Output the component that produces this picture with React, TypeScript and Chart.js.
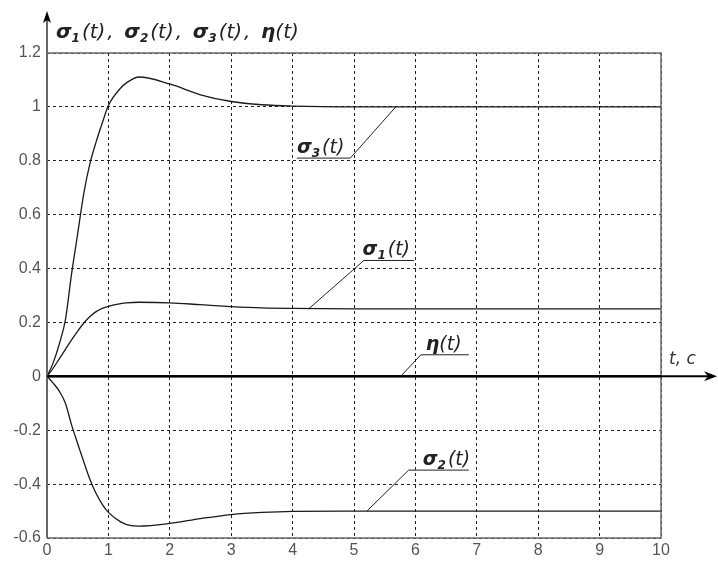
import React, { useEffect, useRef } from "react";
import { Chart, registerables } from "chart.js";

Chart.register(...registerables);

// ---- data ----
const timeS = [0, 0.1, 0.2, 0.3, 0.4, 0.5, 0.6, 0.7, 0.8, 0.9, 1.0, 1.2, 1.3, 1.5, 2, 2.5, 3, 3.5, 4, 5, 6, 7, 8, 9, 10];
const sigma1 = [0, 0.03, 0.065, 0.1, 0.135, 0.168, 0.198, 0.222, 0.24, 0.252, 0.26, 0.27, 0.273, 0.275, 0.273, 0.266, 0.259, 0.254, 0.252, 0.25, 0.25, 0.25, 0.25, 0.25, 0.25];
const sigma2 = [0, -0.025, -0.055, -0.1, -0.18, -0.25, -0.318, -0.383, -0.435, -0.475, -0.505, -0.54, -0.55, -0.556, -0.546, -0.528, -0.513, -0.505, -0.501, -0.5, -0.5, -0.5, -0.5, -0.5, -0.5];
const sigma3 = [0, 0.05, 0.12, 0.21, 0.38, 0.53, 0.68, 0.79, 0.87, 0.94, 1.005, 1.07, 1.09, 1.111, 1.085, 1.045, 1.02, 1.008, 1.003, 1.0, 1.0, 1.0, 1.0, 1.0, 1.0];
const eta = [0, 0, 0, 0, 0, 0, 0, 0, 0, 0, 0, 0, 0, 0, 0, 0, 0, 0, 0, 0, 0, 0, 0, 0, 0];

const xTicks = [0, 1, 2, 3, 4, 5, 6, 7, 8, 9, 10];
const yTicks = [-0.6, -0.4, -0.2, 0, 0.2, 0.4, 0.6, 0.8, 1, 1.2];
const yTickLabels = ["-0.6", "-0.4", "-0.2", "0", "0.2", "0.4", "0.6", "0.8", "1", "1.2"];

// annotation leaders (data coordinates)
const annoSymbols = ["σ", "σ", "η", "σ"];
const annoSubs = ["3", "1", "", "2"];
const annoTip = [[5.68, 1.0], [4.26, 0.25], [5.76, 0], [5.21, -0.5]];
const annoElbow = [[4.94, 0.81], [5.16, 0.43], [6.09, 0.08], [5.89, -0.348]];
const annoEnd = [[4.07, 0.81], [5.98, 0.43], [6.87, 0.08], [6.87, -0.348]];
const annoTextX = [4.07, 5.14, 6.17, 6.12];

const titleParts = [["σ", "1"], ["σ", "2"], ["σ", "3"], ["η", ""]];
const xAxisTitle = "t, c";

const FONT = "'Liberation Sans', Arial, sans-serif";
const LFONT = "'DejaVu Sans', sans-serif";

function drawSubLabel(ctx: CanvasRenderingContext2D, x: number, y: number, sym: string, sub: string, size: number) {
  ctx.textBaseline = "alphabetic";
  ctx.textAlign = "left";
  ctx.font = `bold italic ${size}px ${LFONT}`;
  ctx.fillText(sym, x, y);
  let cx = x + ctx.measureText(sym).width;
  if (sub) {
    ctx.font = `bold italic ${Math.round(size * 0.62)}px ${LFONT}`;
    ctx.fillText(sub, cx, y + size * 0.2);
    cx += ctx.measureText(sub).width + 2;
  }
  ctx.font = `italic ${size}px ${LFONT}`;
  ctx.fillText("(t)", cx, y);
  cx += ctx.measureText("(t)").width;
  return cx;
}

const overlay = {
  id: "overlay",
  afterDraw(chart: any) {
    const ctx: CanvasRenderingContext2D = chart.ctx;
    const { left, right, top, bottom } = chart.chartArea;
    const xs = chart.scales.x;
    const ys = chart.scales.y;
    const y0 = ys.getPixelForValue(0);
    ctx.save();

    // frame (top, right, bottom)
    ctx.strokeStyle = "#6a6a6a";
    ctx.lineWidth = 1.5;
    ctx.setLineDash([]);
    ctx.beginPath();
    ctx.moveTo(left, top);
    ctx.lineTo(right, top);
    ctx.lineTo(right, bottom);
    ctx.lineTo(left, bottom);
    ctx.stroke();

    // y axis with arrow
    ctx.strokeStyle = "#666";
    ctx.lineWidth = 2;
    ctx.beginPath();
    ctx.moveTo(left, bottom);
    ctx.lineTo(left, 18);
    ctx.stroke();
    ctx.fillStyle = "#000";
    ctx.beginPath();
    ctx.moveTo(left, 11);
    ctx.lineTo(left - 4, 23);
    ctx.lineTo(left, 20);
    ctx.lineTo(left + 4, 23);
    ctx.closePath();
    ctx.fill();

    // x axis (zero line) with arrow
    ctx.strokeStyle = "#000";
    ctx.lineWidth = 2;
    ctx.beginPath();
    ctx.moveTo(left, y0);
    ctx.lineTo(712, y0);
    ctx.stroke();
    ctx.beginPath();
    ctx.moveTo(717, y0);
    ctx.lineTo(704, y0 - 5);
    ctx.lineTo(708, y0);
    ctx.lineTo(704, y0 + 5);
    ctx.closePath();
    ctx.fill();

    // annotations
    ctx.lineWidth = 1;
    ctx.strokeStyle = "#222";
    ctx.fillStyle = "#222";
    for (let i = 0; i < annoSymbols.length; i++) {
      const tx = xs.getPixelForValue(annoTip[i][0]);
      const ty = ys.getPixelForValue(annoTip[i][1]);
      const ex = xs.getPixelForValue(annoElbow[i][0]);
      const ey = ys.getPixelForValue(annoElbow[i][1]);
      const fx = xs.getPixelForValue(annoEnd[i][0]);
      const fy = ys.getPixelForValue(annoEnd[i][1]);
      ctx.beginPath();
      ctx.moveTo(tx, ty);
      ctx.lineTo(ex, ey);
      ctx.lineTo(fx, fy);
      ctx.stroke();
      const lx = xs.getPixelForValue(annoTextX[i]);
      drawSubLabel(ctx, lx, ey - 5, annoSymbols[i], annoSubs[i], 19);
    }

    // title
    ctx.fillStyle = "#222";
    let cx = 56;
    for (let i = 0; i < titleParts.length; i++) {
      cx = drawSubLabel(ctx, cx, 38, titleParts[i][0], titleParts[i][1], 20);
      if (i < titleParts.length - 1) {
        ctx.font = `italic 20px ${LFONT}`;
        ctx.fillText(",", cx + 2, 38);
        cx += 19;
      }
    }

    // x axis title
    ctx.fillStyle = "#333";
    ctx.font = `italic 17px ${LFONT}`;
    ctx.textAlign = "left";
    ctx.fillText(xAxisTitle, 669, y0 - 12);

    ctx.restore();
  },
};

export default function App() {
  const ref = useRef<HTMLCanvasElement>(null);
  useEffect(() => {
    const mk = (vals: number[]) => timeS.map((t, i) => ({ x: t, y: vals[i] }));
    const line = (data: any, w: number) => ({
      data,
      borderColor: "#1a1a1a",
      borderWidth: w,
      pointRadius: 0,
      fill: false,
      cubicInterpolationMode: "monotone" as const,
    });
    const chart = new Chart(ref.current!, {
      type: "line",
      data: {
        datasets: [line(mk(sigma3), 1.3), line(mk(sigma1), 1.3), line(mk(sigma2), 1.3), line(mk(eta), 2.5)],
      },
      options: {
        animation: false,
        responsive: false,
        events: [],
        layout: { padding: { top: 53, right: 57, left: 0, bottom: 0 } },
        plugins: { legend: { display: false }, tooltip: { enabled: false } },
        scales: {
          x: {
            type: "linear",
            min: 0,
            max: 10,
            afterBuildTicks: (s: any) => {
              s.ticks = xTicks.map((v) => ({ value: v }));
            },
            afterFit: (s: any) => {
              s.height = 25;
            },
            ticks: {
              color: "#555",
              font: { family: FONT, size: 16 },
              padding: 3,
              maxRotation: 0,
              autoSkip: false,
            },
            grid: { color: "#222", lineWidth: 1, drawTicks: false },
            border: { display: false, dash: [3, 3] },
          },
          y: {
            type: "linear",
            min: -0.6,
            max: 1.2,
            afterBuildTicks: (s: any) => {
              s.ticks = yTicks.map((v) => ({ value: v }));
            },
            afterFit: (s: any) => {
              s.width = 47;
            },
            ticks: {
              color: "#555",
              font: { family: FONT, size: 16 },
              padding: 6,
              autoSkip: false,
              callback: (v: any) => {
                const i = yTicks.findIndex((t) => Math.abs(t - Number(v)) < 1e-6);
                return i >= 0 ? yTickLabels[i] : "";
              },
            },
            grid: { color: "#222", lineWidth: 1, drawTicks: false },
            border: { display: false, dash: [3, 3] },
          },
        },
      },
      plugins: [overlay],
    });
    return () => chart.destroy();
  }, []);
  return (
    <div style={{ position: "absolute", left: 0, top: 0, width: 718, height: 563, background: "#fff" }}>
      <canvas ref={ref} width={718} height={563} style={{ width: 718, height: 563, display: "block" }} />
    </div>
  );
}
